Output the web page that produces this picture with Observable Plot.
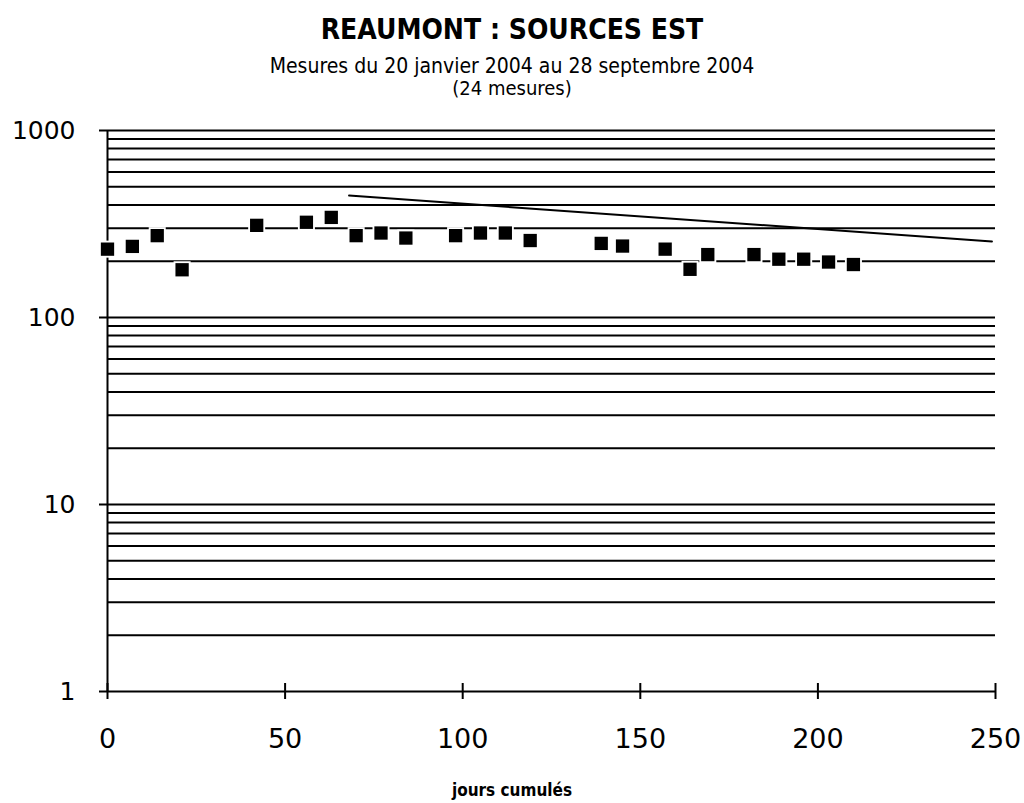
<!DOCTYPE html>
<html>
<head>
<meta charset="utf-8">
<script src="https://cdn.jsdelivr.net/npm/d3@7"></script>
<script src="https://cdn.jsdelivr.net/npm/@observablehq/plot@0.6"></script>
<style>
  html, body { margin: 0; padding: 0; background: #fff; }
  body { width: 1024px; height: 803px; overflow: hidden; font-family: "DejaVu Sans", sans-serif; color: #000; }
  #head { position: relative; height: 100px; }
  #foot { position: relative; height: 33px; }
  .t { position: absolute; left: 0; width: 1024px; text-align: center; white-space: nowrap; line-height: 1;
       font-family: "DejaVu Sans Condensed", "DejaVu Sans", sans-serif; font-stretch: condensed; }
  #title { top: 16px; font-size: 28px; font-weight: bold; }
  #sub1 { top: 56px; font-size: 21px; }
  #sub2 { top: 78px; font-size: 20px; }
  #xlabel { top: 12px; font-size: 17px; font-weight: bold; }
  #chart svg { display: block; }
</style>
</head>
<body>
<div id="head">
  <div class="t" id="title">REAUMONT : SOURCES EST</div>
  <div class="t" id="sub1">Mesures du 20 janvier 2004 au 28 septembre 2004</div>
  <div class="t" id="sub2">(24 mesures)</div>
</div>
<div id="chart"></div>
<div id="foot">
  <div class="t" id="xlabel">jours cumulés</div>
</div>
<script>
// Measurement days (cumulative) and values
const days = [0, 7, 14, 21, 42, 56, 63, 70, 77, 84, 98, 105, 112, 119, 139, 145, 157, 164, 169, 182, 189, 196, 203, 210];
const values = [232, 240, 274, 180, 311, 323, 343, 274, 283, 266, 274, 283, 283, 258, 249, 241, 232, 181, 217, 217, 205, 205, 198, 192];

// Trend line endpoints
const trendDays = [68, 249];
const trendValues = [449, 255];

// Axis ticks
const xTicks = [0, 50, 100, 150, 200, 250];
const yTicks = [1, 10, 100, 1000];
const gridValues = [1, 2, 3, 4, 5, 6, 7, 8, 9, 10, 20, 30, 40, 50, 60, 70, 80, 90, 100, 200, 300, 400, 500, 600, 700, 800, 900, 1000];

const points = days.map((d, i) => ({day: d, value: values[i]}));
const trend = trendDays.map((d, i) => ({day: d, value: trendValues[i]}));

const chart = Plot.plot({
  width: 1024,
  height: 670,
  marginTop: 30,
  marginBottom: 79,
  marginLeft: 107,
  marginRight: 29,
  style: {fontFamily: "DejaVu Sans, sans-serif", color: "#000", background: "#fff"},
  x: {domain: [0, 250]},
  y: {type: "log", domain: [1, 1000]},
  marks: [
    Plot.ruleY(gridValues, {stroke: "#000", strokeWidth: 2}),
    Plot.ruleX([0], {stroke: "#000", strokeWidth: 2}),
    Plot.axisY({ticks: yTicks, tickFormat: d => String(d), tickSize: 8, tickPadding: 24, fontSize: 25, strokeWidth: 2, label: null}),
    Plot.axisX({ticks: xTicks, tickFormat: d => String(d), tickSize: 16, dy: -8, tickPadding: 29, fontSize: 27, strokeWidth: 2, label: null}),
    Plot.line(trend, {x: "day", y: "value", stroke: "#000", strokeWidth: 2}),
    Plot.dot(points, {x: "day", y: "value", symbol: "square", r: 9.6, fill: "#fff"}),
    Plot.dot(points, {x: "day", y: "value", symbol: "square", r: 7.5, fill: "#000"})
  ]
});
document.getElementById("chart").appendChild(chart);
</script>
</body>
</html>
